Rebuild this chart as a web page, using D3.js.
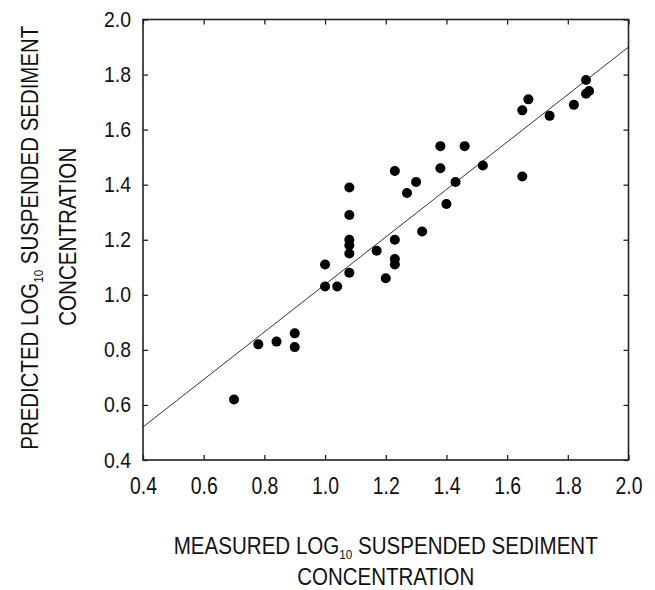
<!DOCTYPE html>
<html>
<head>
<meta charset="utf-8">
<script src="https://cdn.jsdelivr.net/npm/d3@7"></script>
<style>
  html, body { margin: 0; padding: 0; background: #fff; }
  svg { display: block; }
  text { font-family: "Liberation Sans", Arial, sans-serif; fill: #111; }
</style>
</head>
<body>
<svg id="chart" width="655" height="590"></svg>
<script>
// Measured log10 SSC (x) and predicted log10 SSC (y)
const measured = [0.70, 0.78, 0.84, 0.90, 0.90, 1.00, 1.00, 1.04, 1.08, 1.08, 1.08, 1.08, 1.08, 1.08,
  1.17, 1.20, 1.23, 1.23, 1.23, 1.23, 1.27, 1.30, 1.32, 1.38, 1.38, 1.40, 1.43, 1.46, 1.52,
  1.65, 1.67, 1.65, 1.74, 1.82, 1.86, 1.86, 1.87];
const predicted = [0.62, 0.82, 0.83, 0.86, 0.81, 1.11, 1.03, 1.03, 1.39, 1.29, 1.20, 1.18, 1.15, 1.08,
  1.16, 1.06, 1.45, 1.20, 1.13, 1.11, 1.37, 1.41, 1.23, 1.54, 1.46, 1.33, 1.41, 1.54, 1.47,
  1.67, 1.71, 1.43, 1.65, 1.69, 1.78, 1.73, 1.74];
// Regression line end points
const lineX = [0.4, 2.0];
const lineY = [0.52, 1.90];
const xTicks = [0.4, 0.6, 0.8, 1.0, 1.2, 1.4, 1.6, 1.8, 2.0];
const yTicks = [0.4, 0.6, 0.8, 1.0, 1.2, 1.4, 1.6, 1.8, 2.0];

const svg = d3.select("#chart");
const mLeft = 143, mRight = 628.5, mTop = 19.5, mBottom = 460;
const x = d3.scaleLinear().domain([0.4, 2.0]).range([mLeft, mRight]);
const y = d3.scaleLinear().domain([0.4, 2.0]).range([mBottom, mTop]);
const fmt = d3.format(".1f");
const axisColor = "#222";

// regression line
svg.append("line")
  .attr("x1", x(lineX[0])).attr("y1", y(lineY[0]))
  .attr("x2", x(lineX[1])).attr("y2", y(lineY[1]))
  .attr("stroke", "#333").attr("stroke-width", 1);

// points
svg.append("g").selectAll("circle")
  .data(measured.map((m, i) => [m, predicted[i]]))
  .join("circle")
  .attr("cx", d => x(d[0])).attr("cy", d => y(d[1]))
  .attr("r", 5).attr("fill", "#000");

function styleAxis(g, fs) {
  g.select(".domain").remove();
  g.selectAll(".tick line").attr("stroke", axisColor).attr("stroke-width", 1.3);
  if (!fs) g.selectAll(".tick text").remove();
  else g.selectAll(".tick text").attr("font-size", fs).attr("fill", "#111")
    .attr("textLength", 27).attr("lengthAdjust", "spacingAndGlyphs");
}

// bottom axis
svg.append("g").attr("transform", `translate(0,${mBottom})`)
  .call(d3.axisBottom(x).tickValues(xTicks).tickFormat(fmt).tickSizeInner(-5).tickSizeOuter(0).tickPadding(17))
  .call(g => styleAxis(g, 24));
// top axis
svg.append("g").attr("transform", `translate(0,${mTop})`)
  .call(d3.axisTop(x).tickValues(xTicks).tickSizeInner(-5).tickSizeOuter(0))
  .call(g => styleAxis(g, 0));
// left axis
svg.append("g").attr("transform", `translate(${mLeft},0)`)
  .call(d3.axisLeft(y).tickValues(yTicks).tickFormat(fmt).tickSizeInner(-5).tickSizeOuter(0).tickPadding(12))
  .call(g => styleAxis(g, 22));
// right axis
svg.append("g").attr("transform", `translate(${mRight},0)`)
  .call(d3.axisRight(y).tickValues(yTicks).tickSizeInner(-5).tickSizeOuter(0))
  .call(g => styleAxis(g, 0));

// frame
svg.append("rect")
  .attr("x", mLeft).attr("y", mTop).attr("width", mRight - mLeft).attr("height", mBottom - mTop)
  .attr("fill", "none").attr("stroke", axisColor).attr("stroke-width", 1.6);

// axis titles
function titleLine(sel, pre, post) {
  sel.append("tspan").text(pre);
  sel.append("tspan").attr("font-size", 13).attr("dy", 5).text("10");
  sel.append("tspan").attr("dy", -5).text(post);
}
const cx = (mLeft + mRight) / 2;
const xt1 = svg.append("text").attr("x", cx).attr("y", 554).attr("text-anchor", "middle").attr("font-size", 23)
  .attr("textLength", 424).attr("lengthAdjust", "spacingAndGlyphs");
titleLine(xt1, "MEASURED LOG", " SUSPENDED SEDIMENT");
svg.append("text").attr("x", cx).attr("y", 585).attr("text-anchor", "middle").attr("font-size", 23)
  .attr("textLength", 177).attr("lengthAdjust", "spacingAndGlyphs")
  .text("CONCENTRATION");

const cy = (mTop + mBottom) / 2;
const yt1 = svg.append("text").attr("transform", `translate(38,${cy - 2}) rotate(-90)`)
  .attr("text-anchor", "middle").attr("font-size", 23)
  .attr("textLength", 424).attr("lengthAdjust", "spacingAndGlyphs");
titleLine(yt1, "PREDICTED LOG", " SUSPENDED SEDIMENT");
svg.append("text").attr("transform", `translate(76,${cy - 3}) rotate(-90)`)
  .attr("text-anchor", "middle").attr("font-size", 23)
  .attr("textLength", 178).attr("lengthAdjust", "spacingAndGlyphs")
  .text("CONCENTRATION");
</script>
</body>
</html>
